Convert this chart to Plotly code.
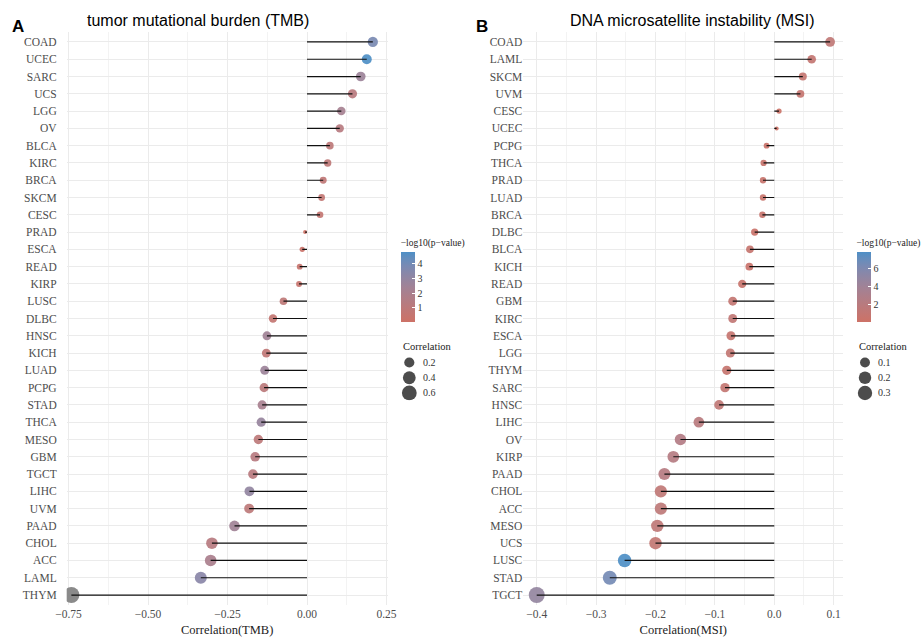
import numpy as np
import plotly.graph_objects as go

# ---------------- data ----------------
tmb_cancers = ["COAD", "UCEC", "SARC", "UCS", "LGG", "OV", "BLCA", "KIRC", "BRCA", "SKCM", "CESC",
               "PRAD", "ESCA", "READ", "KIRP", "LUSC", "DLBC", "HNSC", "KICH", "LUAD", "PCPG",
               "STAD", "THCA", "MESO", "GBM", "TGCT", "LIHC", "UVM", "PAAD", "CHOL", "ACC", "LAML", "THYM"]
tmb_cor = [0.207, 0.188, 0.169, 0.143, 0.108, 0.103, 0.072, 0.065, 0.051, 0.046, 0.041,
           -0.006, -0.015, -0.023, -0.025, -0.074, -0.107, -0.126, -0.128, -0.133, -0.135,
           -0.141, -0.144, -0.153, -0.163, -0.170, -0.181, -0.182, -0.228, -0.299, -0.303, -0.334, -0.741]
tmb_logp = [3.8, 4.8, 2.6, 1.2, 2.2, 1.3, 1.0, 0.9, 0.8, 0.7, 0.6,
            0.03, 0.2, 0.4, 0.4, 0.9, 0.6, 2.4, 0.8, 2.6, 1.1,
            2.1, 2.8, 1.0, 1.3, 1.2, 3.0, 1.0, 2.4, 1.3, 2.0, 3.3, float("nan")]

msi_cancers = ["COAD", "LAML", "SKCM", "UVM", "CESC", "UCEC", "PCPG", "THCA", "PRAD", "LUAD", "BRCA",
               "DLBC", "BLCA", "KICH", "READ", "GBM", "KIRC", "ESCA", "LGG", "THYM", "SARC", "HNSC",
               "LIHC", "OV", "KIRP", "PAAD", "CHOL", "ACC", "MESO", "UCS", "LUSC", "STAD", "TGCT"]
msi_cor = [0.094, 0.063, 0.048, 0.044, 0.008, 0.004, -0.013, -0.018, -0.019, -0.019, -0.020,
           -0.033, -0.041, -0.042, -0.054, -0.070, -0.070, -0.073, -0.074, -0.080, -0.083, -0.093,
           -0.127, -0.158, -0.170, -0.185, -0.191, -0.191, -0.197, -0.200, -0.252, -0.277, -0.400]
msi_logp = [1.3, 1.0, 0.9, 0.8, 0.2, 0.01, 0.3, 0.5, 0.5, 0.5, 0.6,
            0.3, 0.7, 0.4, 0.5, 1.0, 1.2, 0.8, 1.1, 0.7, 1.0, 1.3,
            2.0, 2.5, 2.3, 2.2, 1.3, 1.5, 1.4, 1.1, 7.9, 6.5, 4.8]

tmb_xticks = [-0.75, -0.50, -0.25, 0.00, 0.25]
tmb_xticklabels = ["\u22120.75", "\u22120.50", "\u22120.25", "0.00", "0.25"]
msi_xticks = [-0.4, -0.3, -0.2, -0.1, 0.0, 0.1]
msi_xticklabels = ["\u22120.4", "\u22120.3", "\u22120.2", "\u22120.1", "0.0", "0.1"]
tmb_size_breaks = [0.2, 0.4, 0.6]
msi_size_breaks = [0.1, 0.2, 0.3]
tmb_cbar_ticks = [1, 2, 3, 4]
msi_cbar_ticks = [2, 4, 6]

# ---------------- styling helpers ----------------
W, H = 921, 640
LOW, HIGH = "#CD7266", "#4E8FC6"
NA_COLOR = "#808080"
SERIF = "Liberation Serif, Times New Roman, serif"
SANS = "Liberation Sans, Arial, sans-serif"
D_MIN, D_MAX = 4.0, 16.0


def hex2rgb(h):
    h = h.lstrip("#")
    return [int(h[i:i + 2], 16) for i in (0, 2, 4)]


def rgb2lab(rgb):
    c = np.array(rgb) / 255.0
    c = np.where(c <= 0.04045, c / 12.92, ((c + 0.055) / 1.055) ** 2.4)
    M = np.array([[0.4124, 0.3576, 0.1805], [0.2126, 0.7152, 0.0722], [0.0193, 0.1192, 0.9505]])
    xyz = M @ c / np.array([0.95047, 1.0, 1.08883])
    f = np.where(xyz > 0.008856, np.cbrt(xyz), 7.787 * xyz + 16 / 116)
    return np.array([116 * f[1] - 16, 500 * (f[0] - f[1]), 200 * (f[1] - f[2])])


def lab2rgb(lab):
    L, a, b = lab
    fy = (L + 16) / 116
    fx = fy + a / 500
    fz = fy - b / 200
    f = np.array([fx, fy, fz])
    xyz = np.where(f ** 3 > 0.008856, f ** 3, (f - 16 / 116) / 7.787) * np.array([0.95047, 1.0, 1.08883])
    Mi = np.array([[3.2406, -1.5372, -0.4986], [-0.9689, 1.8758, 0.0415], [0.0557, -0.2040, 1.0570]])
    c = Mi @ xyz
    c = np.where(c <= 0.0031308, 12.92 * c, 1.055 * np.clip(c, 0, None) ** (1 / 2.4) - 0.055)
    c = np.clip(np.round(c * 255), 0, 255).astype(int)
    return "rgb(%d,%d,%d)" % tuple(c)


lab_lo, lab_hi = rgb2lab(hex2rgb(LOW)), rgb2lab(hex2rgb(HIGH))
colorscale = [[t, lab2rgb(lab_lo + (lab_hi - lab_lo) * t)] for t in np.linspace(0, 1, 11)]


def size_scale(vals, vmin, vmax):
    v = (np.abs(np.array(vals, dtype=float)) - vmin) / (vmax - vmin)
    return D_MIN + (D_MAX - D_MIN) * np.sqrt(np.clip(v, 0, None))


fig = go.Figure()


def add_panel(cancers, cor, logp, xa, ya, cax):
    cor = np.array(cor, dtype=float)
    logp = np.array(logp, dtype=float)
    absv = np.abs(cor)
    sizes = size_scale(cor, absv.min(), absv.max())
    ok = ~np.isnan(logp)
    cats = np.array(cancers)
    fig.add_trace(go.Scatter(
        x=cor[ok], y=cats[ok], mode="markers", xaxis=xa, yaxis=ya, showlegend=False,
        marker=dict(size=sizes[ok], color=logp[ok], coloraxis=cax, line=dict(width=0), opacity=0.92),
        hoverinfo="x+y"))
    if (~ok).any():
        fig.add_trace(go.Scatter(
            x=cor[~ok], y=cats[~ok], mode="markers", xaxis=xa, yaxis=ya, showlegend=False,
            marker=dict(size=sizes[~ok], color=NA_COLOR, line=dict(width=0), opacity=0.92),
            hoverinfo="x+y"))
    sx, sy = [], []
    for c, v in zip(cancers, cor):
        sx += [0, v, None]
        sy += [c, c, None]
    fig.add_trace(go.Scatter(x=sx, y=sy, mode="lines", xaxis=xa, yaxis=ya, showlegend=False,
                             line=dict(color="#111111", width=1.2), hoverinfo="skip"))
    return absv.min(), absv.max()


tmin, tmax = add_panel(tmb_cancers, tmb_cor, tmb_logp, "x", "y", "coloraxis")
mmin, mmax = add_panel(msi_cancers, msi_cor, msi_logp, "x2", "y2", "coloraxis2")


# size legends (drawn with the same size scale)
def add_size_legend(breaks, vmin, vmax, xa, ya):
    fig.add_trace(go.Scatter(
        x=[0] * len(breaks), y=["r%d" % i for i in range(len(breaks))], mode="markers", xaxis=xa, yaxis=ya,
        showlegend=False, hoverinfo="skip",
        marker=dict(size=size_scale(breaks, vmin, vmax), color="black", line=dict(width=0))))


add_size_legend(tmb_size_breaks, tmin, tmax, "x3", "y3")
add_size_legend(msi_size_breaks, mmin, mmax, "x4", "y4")

n = len(tmb_cancers)
top_px, bot_px = 31.6, 605.4
ydom = [1 - bot_px / H, 1 - top_px / H]
grid_major = "#EBEBEB"
grid_minor = "#F3F3F3"

axis_common = dict(showline=False, zeroline=False, ticks="", gridcolor=grid_major, gridwidth=1)
leg_rows = ["r0", "r1", "r2"]


def cbar(xpx, ticks):
    return dict(x=xpx / W, xanchor="left", xpad=0, ypad=0, y=1 - 322 / H,
                yanchor="bottom", lenmode="pixels", len=86, thickness=14,
                outlinewidth=0, tickvals=ticks, ticks="inside",
                tickcolor="white", ticklen=3,
                tickfont=dict(family=SERIF, size=10, color="#333"),
                title=dict(text="\u2212log10(p\u2212value)", side="top",
                           font=dict(family=SERIF, size=9.5, color="#222")))


fig.update_layout(
    width=W, height=H, autosize=False, margin=dict(l=0, r=0, t=0, b=0, autoexpand=False),
    paper_bgcolor="white", plot_bgcolor="white",
    xaxis=dict(domain=[66.7 / W, 387.7 / W], range=[-0.7557, 0.2538], tickvals=tmb_xticks,
               ticktext=tmb_xticklabels, anchor="y",
               minor=dict(dtick=0.125, tick0=0, showgrid=True, gridcolor=grid_minor, gridwidth=0.7),
               tickfont=dict(family=SERIF, size=11.5, color="#4D4D4D"),
               title=dict(text="Correlation(TMB)", font=dict(family=SERIF, size=12.5, color="#222"), standoff=6),
               **axis_common),
    yaxis=dict(domain=ydom, type="category", categoryorder="array", categoryarray=tmb_cancers,
               range=[n - 1 + 0.6, -0.6], anchor="x", ticklabelstandoff=9,
               tickfont=dict(family=SERIF, size=11.5, color="#4D4D4D"), **axis_common),
    xaxis2=dict(domain=[523.3 / W, 843.3 / W], range=[-0.4226, 0.1162], tickvals=msi_xticks,
                ticktext=msi_xticklabels, anchor="y2",
                minor=dict(dtick=0.05, tick0=0, showgrid=True, gridcolor=grid_minor, gridwidth=0.7),
                tickfont=dict(family=SERIF, size=11.5, color="#4D4D4D"),
                title=dict(text="Correlation(MSI)", font=dict(family=SERIF, size=12.5, color="#222"), standoff=6),
                **axis_common),
    yaxis2=dict(domain=ydom, type="category", categoryorder="array", categoryarray=msi_cancers,
                range=[n - 1 + 0.6, -0.6], anchor="x2", ticklabelstandoff=0,
                tickfont=dict(family=SERIF, size=11.5, color="#4D4D4D"), **axis_common),
    xaxis3=dict(domain=[399.3 / W, 419.3 / W], range=[-1, 1], visible=False, fixedrange=True),
    yaxis3=dict(domain=[1 - 400.6 / H, 1 - 354.9 / H], type="category", categoryorder="array",
                categoryarray=leg_rows, range=[2.5, -0.5], visible=False, anchor="x3"),
    xaxis4=dict(domain=[855 / W, 875 / W], range=[-1, 1], visible=False, fixedrange=True),
    yaxis4=dict(domain=[1 - 400.6 / H, 1 - 354.9 / H], type="category", categoryorder="array",
                categoryarray=leg_rows, range=[2.5, -0.5], visible=False, anchor="x4"),
    coloraxis=dict(colorscale=colorscale, cmin=float(np.nanmin(tmb_logp)), cmax=float(np.nanmax(tmb_logp)),
                   colorbar=cbar(400.7, tmb_cbar_ticks)),
    coloraxis2=dict(colorscale=colorscale, cmin=float(np.nanmin(msi_logp)), cmax=float(np.nanmax(msi_logp)),
                    colorbar=cbar(856.5, msi_cbar_ticks)),
)

ann = []
# panel titles and tags
ann.append(dict(text="tumor mutational burden (TMB)", x=197.7 / W, y=1 - 20.5 / H, xref="paper", yref="paper",
                showarrow=False, xanchor="center", yanchor="middle", font=dict(family=SANS, size=16, color="black")))
ann.append(dict(text="DNA microsatellite instability (MSI)", x=692.5 / W, y=1 - 20.5 / H, xref="paper",
                yref="paper", showarrow=False, xanchor="center", yanchor="middle",
                font=dict(family=SANS, size=16, color="black")))
ann.append(dict(text="<b>A</b>", x=10 / W, y=1 - 26.5 / H, xref="paper", yref="paper", showarrow=False,
                xanchor="left", yanchor="middle", font=dict(family=SANS, size=17, color="black")))
ann.append(dict(text="<b>B</b>", x=473.5 / W, y=1 - 26.5 / H, xref="paper", yref="paper", showarrow=False,
                xanchor="left", yanchor="middle", font=dict(family=SANS, size=17, color="black")))
# size legend titles and labels
for xt, xa_lab, ya, breaks in [(400.7, 420.5, "y3", tmb_size_breaks), (857.3, 876, "y4", msi_size_breaks)]:
    ann.append(dict(text="Correlation", x=xt / W, y=1 - 346 / H, xref="paper", yref="paper", showarrow=False,
                    xanchor="left", yanchor="middle", font=dict(family=SERIF, size=10.5, color="#222")))
    for i, b in enumerate(breaks):
        ann.append(dict(text=str(b), x=xa_lab / W, y=i, xref="paper", yref=ya, showarrow=False,
                        xanchor="left", yanchor="middle", font=dict(family=SERIF, size=10, color="#333")))
fig.update_layout(annotations=ann)

fig.write_html("out.html")
